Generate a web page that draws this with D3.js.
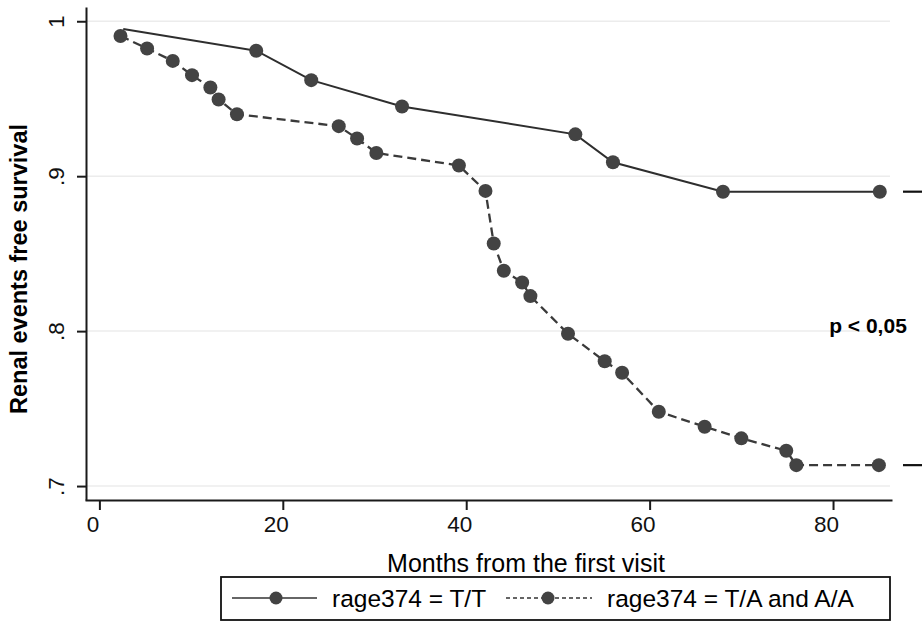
<!DOCTYPE html>
<html>
<head>
<meta charset="utf-8">
<script src="https://cdn.jsdelivr.net/npm/d3@7"></script>
<style>
  body { margin: 0; background: #fff; }
  svg { display: block; font-family: "Liberation Sans", Arial, sans-serif; }
  .domain { stroke: #1a1a1a; stroke-width: 2; }
  .tick line { stroke: #1a1a1a; stroke-width: 2; }
</style>
</head>
<body>
<svg id="chart" width="922" height="622"></svg>
<script>
// Kaplan-Meier steps
var ttMonths = [2.6, 17.1, 23.1, 33.0, 51.9, 56.0, 68.0, 85.1];
var ttSurv   = [0.995, 0.981, 0.962, 0.945, 0.927, 0.909, 0.890, 0.890];

var taMonths = [2.3, 5.2, 8.0, 10.1, 12.1, 13.0, 15.0, 26.1, 28.1, 30.2, 39.2, 42.1, 43.0,
                44.1, 46.1, 47.0, 51.1, 55.1, 57.0, 61.0, 66.0, 70.0, 74.9, 76.0, 85.0];
var taSurv   = [0.9905, 0.9824, 0.9744, 0.9652, 0.9572, 0.9495, 0.940, 0.9323, 0.9243, 0.915,
                0.9069, 0.8905, 0.8566, 0.839, 0.8314, 0.8226, 0.7983, 0.7806, 0.7731, 0.748,
                0.7383, 0.7308, 0.7228, 0.7135, 0.7135];

var xTicks = [0, 20, 40, 60, 80];
var yTicks = [0.7, 0.8, 0.9, 1];
var yTickLabels = [".7", ".8", ".9", "1"];
var legendLabels = ["rage374 = T/T", "rage374 = T/A and A/A"];

var svg = d3.select("#chart");

var x = d3.scaleLinear().domain([-1.57, 86.43]).range([85, 892]);
var y = d3.scaleLinear().domain([0.691, 1.0092]).range([500, 7]);

var markColor = "#434343";

// gridlines
svg.append("g")
    .selectAll("line")
    .data(yTicks)
    .enter()
    .append("line")
    .attr("x1", 86)
    .attr("x2", 890)
    .attr("y1", function(d) { return y(d); })
    .attr("y2", function(d) { return y(d); })
    .attr("stroke", "#ececec")
    .attr("stroke-width", 1.5);

// axes
var xAxis = svg.append("g")
    .attr("transform", "translate(0,500)")
    .call(d3.axisBottom(x).tickValues(xTicks).tickSize(10).tickSizeOuter(0).tickFormat(d3.format("d")));
xAxis.selectAll("text")
    .attr("dx", -7)
    .attr("y", 16)
    .attr("dy", "0.71em")
    .style("font-size", "22.5px")
    .style("fill", "#111");

var yAxis = svg.append("g")
    .attr("transform", "translate(86,0)")
    .call(d3.axisLeft(y).tickValues(yTicks).tickSize(9).tickSizeOuter(0)
        .tickFormat(function(d, i) { return yTickLabels[i]; }));
yAxis.selectAll("text")
    .attr("x", null).attr("dy", null)
    .attr("transform", "translate(-22,0) rotate(-90)")
    .attr("text-anchor", "middle")
    .style("font-size", "22.5px")
    .style("fill", "#111");

// axis titles
svg.append("text")
    .attr("x", 526)
    .attr("y", 572)
    .attr("text-anchor", "middle")
    .style("font-size", "25px")
    .text("Months from the first visit");

svg.append("text")
    .attr("transform", "translate(27,269) rotate(-90)")
    .attr("text-anchor", "middle")
    .style("font-size", "23.5px")
    .style("font-weight", "bold")
    .text("Renal events free survival");

// series
var line = d3.line()
    .x(function(d) { return x(d[0]); })
    .y(function(d) { return y(d[1]); });

var tt = d3.zip(ttMonths, ttSurv);
var ta = d3.zip(taMonths, taSurv);

svg.append("path")
    .datum(tt)
    .attr("d", line)
    .attr("fill", "none")
    .attr("stroke", "#2e2e2e")
    .attr("stroke-width", 2);

svg.append("path")
    .datum(ta)
    .attr("d", line)
    .attr("fill", "none")
    .attr("stroke", "#3a3a3a")
    .attr("stroke-width", 2.3)
    .attr("stroke-dasharray", "9,5");

// first T/T point is the start of the curve, no marker on it
svg.append("g")
    .selectAll("circle")
    .data(tt.slice(1).concat(ta))
    .enter()
    .append("circle")
    .attr("cx", function(d) { return x(d[0]); })
    .attr("cy", function(d) { return y(d[1]); })
    .attr("r", 7)
    .attr("fill", markColor);

// end marks on the right
svg.append("g")
    .selectAll("line")
    .data([ttSurv[ttSurv.length - 1], taSurv[taSurv.length - 1]])
    .enter()
    .append("line")
    .attr("x1", 903)
    .attr("x2", 930)
    .attr("y1", function(d) { return y(d); })
    .attr("y2", function(d) { return y(d); })
    .attr("stroke", "#111")
    .attr("stroke-width", 2.2);

svg.append("text")
    .attr("x", 868)
    .attr("y", 333)
    .attr("text-anchor", "middle")
    .style("font-size", "21px")
    .style("font-weight", "bold")
    .text("p < 0,05");

// legend
var legend = svg.append("g");
legend.append("rect")
    .attr("x", 221)
    .attr("y", 577)
    .attr("width", 669)
    .attr("height", 43)
    .attr("fill", "#fff")
    .attr("stroke", "#111")
    .attr("stroke-width", 1.8);

var legendItems = [
    {x1: 232, x2: 317, cx: 276, tx: 332, dash: null},
    {x1: 506, x2: 592, cx: 548, tx: 607, dash: "4,3"}
];

legendItems.forEach(function(d, i) {
    legend.append("line")
        .attr("x1", d.x1).attr("x2", d.x2)
        .attr("y1", 598).attr("y2", 598)
        .attr("stroke", "#333")
        .attr("stroke-width", 1.4)
        .attr("stroke-dasharray", d.dash);
    legend.append("circle")
        .attr("cx", d.cx).attr("cy", 598)
        .attr("r", 6.5)
        .attr("fill", markColor);
    legend.append("text")
        .attr("x", d.tx)
        .attr("y", 607)
        .style("font-size", "24.5px")
        .text(legendLabels[i]);
});
</script>
</body>
</html>
